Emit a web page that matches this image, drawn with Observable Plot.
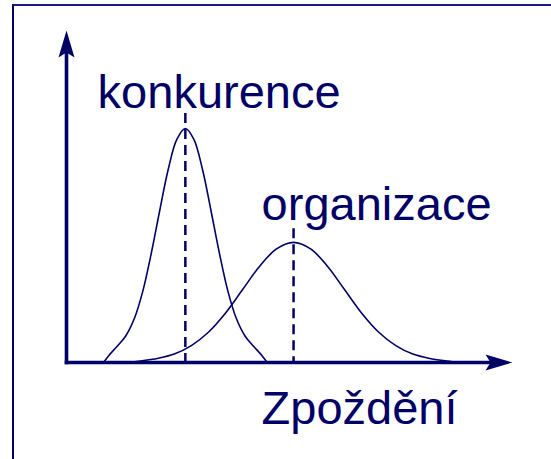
<!DOCTYPE html>
<html><head><meta charset="utf-8">
<script src="https://cdn.jsdelivr.net/npm/d3@7"></script>
<script src="https://cdn.jsdelivr.net/npm/@observablehq/plot@0.6"></script>
<style>
html,body{margin:0;padding:0;background:#fff;}
#wrap{position:relative;width:551px;height:459px;overflow:hidden;background:#fff;}
#frame{position:absolute;left:12px;top:3.5px;width:600px;height:500px;border-left:2.5px solid #000066;border-top:2.5px solid #1a1a80;box-sizing:border-box;pointer-events:none;}
#chart{position:absolute;left:0;top:0;}
</style></head><body>
<div id="wrap"><div id="chart"></div><div id="frame"></div></div>
<script>
// Curve "konkurence" (delay, density)
const delayKonk = [0.87, 0.99, 1.19, 1.39, 1.59, 1.79, 1.99, 2.19, 2.39, 2.59, 2.79, 2.99, 3.19, 3.39, 3.59, 3.79, 3.99, 4.19, 4.39, 4.59, 4.71];
const densKonk  = [0, 0.22, 0.52, 0.85, 1.40, 2.28, 3.50, 4.88, 6.20, 7.15, 7.50, 7.15, 6.20, 4.88, 3.50, 2.28, 1.40, 0.85, 0.52, 0.22, 0];
// Curve "organizace"
const delayOrg = [1.48, 1.73, 2.13, 2.53, 2.93, 3.33, 3.73, 4.13, 4.53, 4.93, 5.33, 5.73, 6.13, 6.53, 6.93, 7.33, 7.73, 8.13, 8.53, 8.93, 9.23];
const densOrg  = [0, 0.05, 0.13, 0.27, 0.54, 0.97, 1.58, 2.33, 3.08, 3.64, 3.85, 3.64, 3.08, 2.33, 1.58, 0.97, 0.54, 0.27, 0.13, 0.05, 0];
// Dashed mode lines
const modeDelays = [2.79, 5.33];
const modeTops = [7.98, 4.29];
// Labels
const labelTexts = ["konkurence", "organizace", "Zpoždění"];
const labelX = [0.73, 4.58, 4.58];
const labelY = [8.17, 4.58, -1.96];
// Axis extents
const axisMax = 10;

const navy = "#000066";
const konk = delayKonk.map((x, i) => ({x, y: densKonk[i]}));
const org = delayOrg.map((x, i) => ({x, y: densOrg[i]}));
const modes = modeDelays.map((x, i) => ({x, top: modeTops[i], bottom: 0}));
const ends = [konk[0], konk[konk.length - 1], org[0], org[org.length - 1]];
const labels = labelTexts.map((t, i) => ({t, x: labelX[i], y: labelY[i]}));
const xAxisPts = [{x: 0, y: 0}, {x: axisMax, y: 0}];
const yAxisPts = [{x: 0, y: 0}, {x: 0, y: axisMax}];

const plot = Plot.plot({
  width: 551, height: 459,
  marginLeft: 66, marginRight: 59, marginTop: 50, marginBottom: 97,
  x: {domain: [0, axisMax], axis: null},
  y: {domain: [0, axisMax], axis: null},
  style: {background: "transparent", overflow: "visible"},
  marks: [
    Plot.line(konk, {x: "x", y: "y", stroke: navy, strokeWidth: 1.6, curve: "catmull-rom"}),
    Plot.line(org, {x: "x", y: "y", stroke: navy, strokeWidth: 1.6, curve: "catmull-rom"}),
    Plot.ruleX(modes, {x: "x", y1: "top", y2: "bottom", stroke: navy, strokeWidth: 2.5, strokeDasharray: "10,6"}),
    Plot.dot(ends, {x: "x", y: "y", r: 1.3, fill: "#b00000"}),
    Plot.line(xAxisPts, {x: "x", y: "y", stroke: navy, strokeWidth: 3.6, strokeLinecap: "square"}),
    Plot.line(yAxisPts, {x: "x", y: "y", stroke: navy, strokeWidth: 3.6, strokeLinecap: "square"}),
    Plot.text(labels, {x: "x", y: "y", text: "t", textAnchor: "start", lineAnchor: "bottom", fontSize: 47, fontFamily: "'Liberation Sans', Arial, sans-serif", fill: navy})
  ]
});

const svg = d3.select(plot);
const defs = svg.append("defs");
defs.append("marker")
  .attr("id", "ah")
  .attr("markerUnits", "userSpaceOnUse")
  .attr("viewBox", "-10 -10 35 20")
  .attr("markerWidth", 35).attr("markerHeight", 20)
  .attr("refX", 0).attr("refY", 0)
  .attr("orient", "auto")
  .style("overflow", "visible")
  .append("path")
  .attr("d", "M20,0L-7,-8L-2,0L-7,8Z")
  .attr("fill", navy)
  .attr("stroke", "none");
svg.selectAll('g[stroke-width="3.6"] path').attr("marker-end", "url(#ah)");

document.getElementById("chart").appendChild(plot);
</script>
</body></html>
